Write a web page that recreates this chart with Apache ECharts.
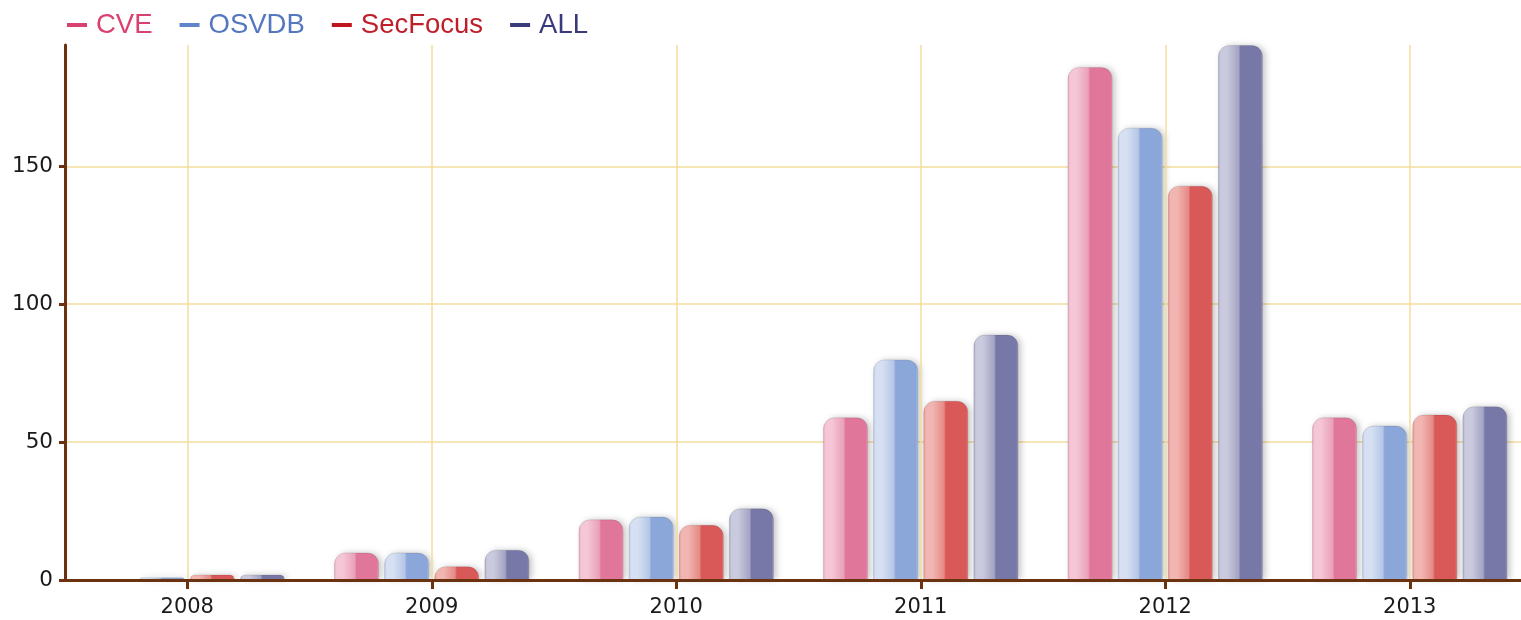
<!DOCTYPE html>
<html>
<head>
<meta charset="utf-8">
<script src="https://cdn.jsdelivr.net/npm/echarts@6/dist/echarts.min.js"></script>
<style>html,body{margin:0;padding:0;background:#fff;overflow:hidden;width:1521px;height:620px;}#c{width:1532px;height:620px;}</style>
</head>
<body>
<div id="c"></div>
<script>
var categories = ['2008', '2009', '2010', '2011', '2012', '2013'];
var seriesNames = ['CVE', 'OSVDB', 'SecFocus', 'ALL'];
var cveValues = [0, 10, 22, 59, 186, 59];
var osvdbValues = [1, 10, 23, 80, 164, 56];
var secFocusValues = [2, 5, 20, 65, 143, 60];
var allValues = [2, 11, 26, 89, 194, 63];
var yTickLabels = [0, 50, 100, 150];

var baseColors = ['#e0779b', '#8ba6d9', '#d95858', '#7878a8'];
var midColors = ['#eaa0ba', '#b4c6e7', '#e58a86', '#a4a4c4'];
var lightColors = ['#f4c6d6', '#d6e0f2', '#f2b6b2', '#cacade'];
var legendLineColors = ['#d9416e', '#5f85cc', '#c0141e', '#3a3a7a'];
var legendTextColors = ['#d9416e', '#5577c0', '#c01f2a', '#3a3a7a'];
var values = [cveValues, osvdbValues, secFocusValues, allValues];

function grad(i) {
  return new echarts.graphic.LinearGradient(0, 0, 1, 0, [
    {offset: 0, color: midColors[i]},
    {offset: 0.06, color: lightColors[i]},
    {offset: 0.2, color: lightColors[i]},
    {offset: 0.46, color: midColors[i]},
    {offset: 0.5, color: baseColors[i]},
    {offset: 0.95, color: baseColors[i]},
    {offset: 1, color: midColors[i]}
  ]);
}

var series = seriesNames.map(function (n, i) {
  return {
    name: n,
    type: 'bar',
    data: values[i],
    barGap: '11%',
    barCategoryGap: '20%',
    itemStyle: {
      color: grad(i),
      borderRadius: [11, 11, 0, 0],
      borderColor: 'rgba(0,0,0,0.1)',
      borderWidth: 1,
      shadowBlur: 6,
      shadowOffsetX: 3,
      shadowOffsetY: 0,
      shadowColor: 'rgba(0,0,0,0.22)'
    },
    emphasis: {disabled: true}
  };
});

var chart = echarts.init(document.getElementById('c'), null, {renderer: 'canvas'});
chart.setOption({
  animation: false,
  backgroundColor: '#ffffff',
  legend: {
    left: 62,
    top: 6,
    itemWidth: 20,
    itemHeight: 4,
    itemGap: 27,
    icon: 'rect',
    textStyle: {fontFamily: 'Liberation Sans', fontSize: 27.5, padding: [0, 0, 0, 4]},
    data: seriesNames.map(function (n, i) {
      return {name: n, itemStyle: {color: legendLineColors[i], borderWidth: 0, shadowBlur: 0}, textStyle: {color: legendTextColors[i]}};
    })
  },
  grid: {left: 65, top: 45, bottom: 40, right: 0, containLabel: false},
  xAxis: {
    type: 'category',
    data: categories,
    boundaryGap: true,
    axisLine: {lineStyle: {color: '#6b3210', width: 3}},
    axisTick: {show: true, alignWithLabel: true, length: 9, lineStyle: {color: '#6b3210', width: 3}},
    axisLabel: {color: '#1a1a1a', fontFamily: 'DejaVu Sans', fontSize: 21, margin: 17},
    splitLine: {show: true, alignWithLabel: true, lineStyle: {color: '#f3dc9c', width: 1.5}},
    z: 3
  },
  yAxis: {
    type: 'value',
    min: 0,
    max: 194,
    interval: 50,
    axisLine: {show: true, lineStyle: {color: '#6b3210', width: 3}},
    axisTick: {show: true, length: 6, customValues: yTickLabels, lineStyle: {color: '#6b3210', width: 3}},
    axisLabel: {color: '#1a1a1a', fontFamily: 'DejaVu Sans', fontSize: 21.5, margin: 12, customValues: yTickLabels},
    splitLine: {show: true, lineStyle: {color: ['#f3dc9c', '#f3dc9c', '#f3dc9c', '#f3dc9c', 'rgba(0,0,0,0)'], width: 1.5}}
  },
  series: series
});
</script>
</body>
</html>
